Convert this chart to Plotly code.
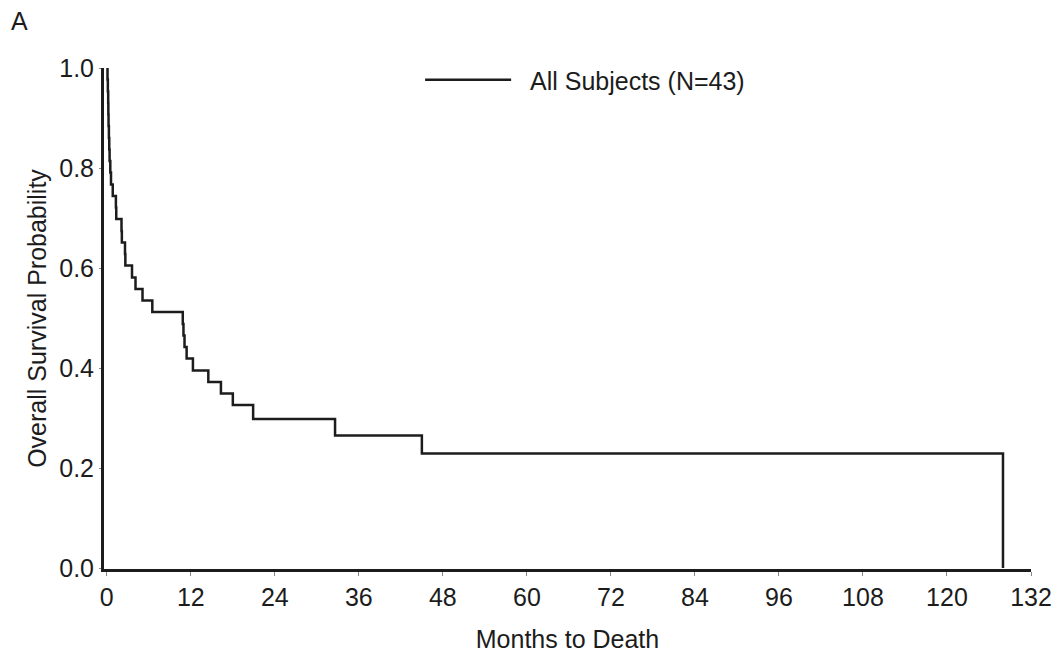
import plotly.graph_objects as go

# Kaplan-Meier estimate (months, survival probability)
months = [0, 0.1, 0.15, 0.2, 0.22, 0.25, 0.3, 0.35, 0.4, 0.5, 0.6, 0.85, 1.3, 1.35,
          2.1, 2.15, 2.6, 2.65, 3.6, 4.1, 5.1, 6.5, 10.85, 10.95, 11.1, 11.4, 12.3,
          14.5, 16.3, 18.0, 20.9, 32.6, 45.0, 128.0]
survival = [1.0, 0.977, 0.953, 0.930, 0.907, 0.884, 0.860, 0.837, 0.814, 0.791, 0.767,
            0.744, 0.721, 0.698, 0.674, 0.651, 0.628, 0.605, 0.581, 0.558, 0.535, 0.512,
            0.488, 0.465, 0.442, 0.419, 0.395, 0.372, 0.349, 0.326, 0.298, 0.265, 0.229, 0.0]
series_name = "All Subjects (N=43)"
x_ticks = [0, 12, 24, 36, 48, 60, 72, 84, 96, 108, 120, 132]
y_ticks = [0.0, 0.2, 0.4, 0.6, 0.8, 1.0]

FONT = "Liberation Sans, Arial, sans-serif"
INK = "#1c1c1c"
FS = 25

fig = go.Figure()
fig.add_trace(go.Scatter(
    x=months, y=survival, mode="lines", name="\u00a0\u00a0" + series_name,
    line=dict(color=INK, width=2.5, shape="hv"),
))

fig.update_layout(
    width=1061, height=654,
    paper_bgcolor="white", plot_bgcolor="white",
    margin=dict(l=96, r=38, t=60, b=93, autoexpand=False),
    font=dict(family=FONT, size=FS, color=INK),
    showlegend=True,
    legend=dict(x=0.341, y=0.976, xanchor="left", yanchor="middle",
                bgcolor="rgba(0,0,0,0)", itemwidth=86,
                font=dict(size=FS)),
)
fig.add_annotation(text="A", xref="paper", yref="paper", x=-0.103, y=1.094,
                   xanchor="left", yanchor="middle", showarrow=False,
                   font=dict(size=FS, color=INK))

fig.update_xaxes(
    range=[-0.4, 132], tickvals=x_ticks, ticktext=[str(v) for v in x_ticks],
    showline=True, linecolor=INK, linewidth=3, mirror=False,
    ticks="outside", ticklen=4, tickwidth=1, tickcolor="#888",
    showgrid=False, zeroline=False, automargin=False,
    title=dict(text="Months to Death", standoff=21, font=dict(size=FS)),
)
fig.update_yaxes(
    range=[-0.002, 1.0], tickvals=y_ticks, ticktext=[f"{v:.1f}" for v in y_ticks],
    showline=True, linecolor=INK, linewidth=3, mirror=False,
    ticks="outside", ticklen=2, tickwidth=1, tickcolor="#888",
    showgrid=False, zeroline=False, automargin=False,
    title=dict(text="Overall Survival Probability", standoff=6, font=dict(size=FS)),
)

fig.write_html("out.html")
